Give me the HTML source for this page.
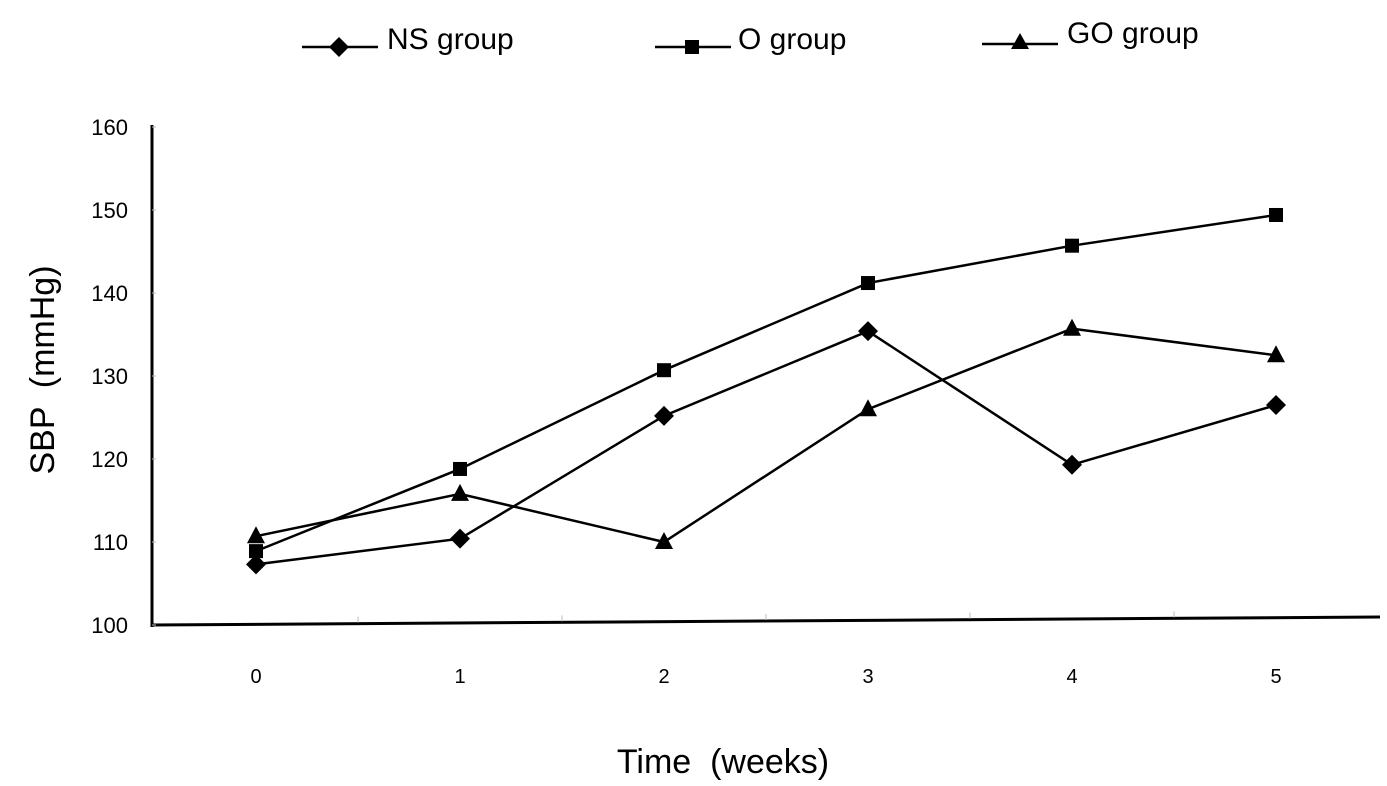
<!DOCTYPE html>
<html><head><meta charset="utf-8"><style>body{margin:0;background:#fff}svg{display:block;font-family:"Liberation Sans",Arial,sans-serif}.pre{white-space:pre}</style></head>
<body>
<svg id="chart" width="1387" height="786">
<g id="axes"></g><g id="series"></g>
<g>
<g><line x1="302" y1="47" x2="378" y2="47" stroke="#000" stroke-width="2.5"/><path d="M339 37 L349 47 L339 57 L329 47 Z"/><text x="387" y="49" font-size="30">NS group</text></g>
<g><line x1="655" y1="47" x2="731" y2="47" stroke="#000" stroke-width="2.5"/><rect x="685" y="40" width="14" height="14"/><text x="738" y="49" font-size="30">O group</text></g>
<g><line x1="982" y1="44" x2="1058" y2="44" stroke="#000" stroke-width="2.5"/><path d="M1020 33 L1029 49 L1011 49 Z"/><text x="1067" y="43" font-size="30">GO group</text></g>
</g>
<text class="pre" x="0" y="0" font-size="34" text-anchor="middle" transform="translate(54,370) rotate(-90)">SBP  (mmHg)</text>
<text class="pre" x="723" y="773" font-size="34" text-anchor="middle">Time  (weeks)</text>
</svg>
<script>
const categories=["0","1","2","3","4","5"];
const yTicks=[100,110,120,130,140,150,160];
const nsValues=[107.3,110.4,125.2,135.4,119.3,126.5];
const oValues=[108.9,118.8,130.7,141.2,145.7,149.4];
const goValues=[110.7,115.8,110.0,126.0,135.7,132.5];
const NS='http://www.w3.org/2000/svg';
const xs=i=>256+i*204;
const ys=v=>625-(v-100)*8.3;
function mk(t,a,p){const e=document.createElementNS(NS,t);for(const k in a)e.setAttribute(k,a[k]);p.appendChild(e);return e;}
const ax=document.getElementById('axes');
let yl=mk('line',{x1:152,y1:125,x2:152,y2:627,stroke:'#000','stroke-width':3},ax);


let xl=mk('line',{x1:151,y1:625,x2:1380,y2:617,stroke:'#000','stroke-width':3},ax);


yTicks.forEach(v=>{
 const t=mk('text',{x:128,y:ys(v)+8,'font-size':22,'text-anchor':'end'},ax);t.textContent=v;
 
 
 mk('line',{x1:152,y1:ys(v),x2:156,y2:ys(v),stroke:'#bbb','stroke-width':1},ax);
});
categories.forEach((c,i)=>{
 const t=mk('text',{x:xs(i),y:683,'font-size':20,'text-anchor':'middle'},ax);t.textContent=c;
 
 
 if(i<5){const mx=xs(i)+102;mk('line',{x1:mx,y1:624-(mx-152)*8/1228,x2:mx,y2:618-(mx-152)*8/1228,stroke:'#bbb','stroke-width':1},ax);}
});
const sg=document.getElementById('series');
function series(vals,name,marker){
 const g=mk('g',{},sg);
 
 
 const pl=mk('polyline',{points:vals.map((v,i)=>xs(i)+','+ys(v)).join(' '),fill:'none',stroke:'#000','stroke-width':2.5},g);
 
 
 vals.forEach((v,i)=>{const x=xs(i),y=ys(v);let m;
  if(marker==='d')m=mk('path',{d:`M${x} ${y-10}L${x+10} ${y}L${x} ${y+10}L${x-10} ${y}Z`},g);
  else if(marker==='s')m=mk('rect',{x:x-7,y:y-7,width:14,height:14},g);
  else m=mk('path',{d:`M${x} ${y-10}L${x+9} ${y+7}L${x-9} ${y+7}Z`},g);
  
  
 });
}
series(nsValues,'ns-group','d');
series(oValues,'o-group','s');
series(goValues,'go-group','t');
</script>
</body></html>
